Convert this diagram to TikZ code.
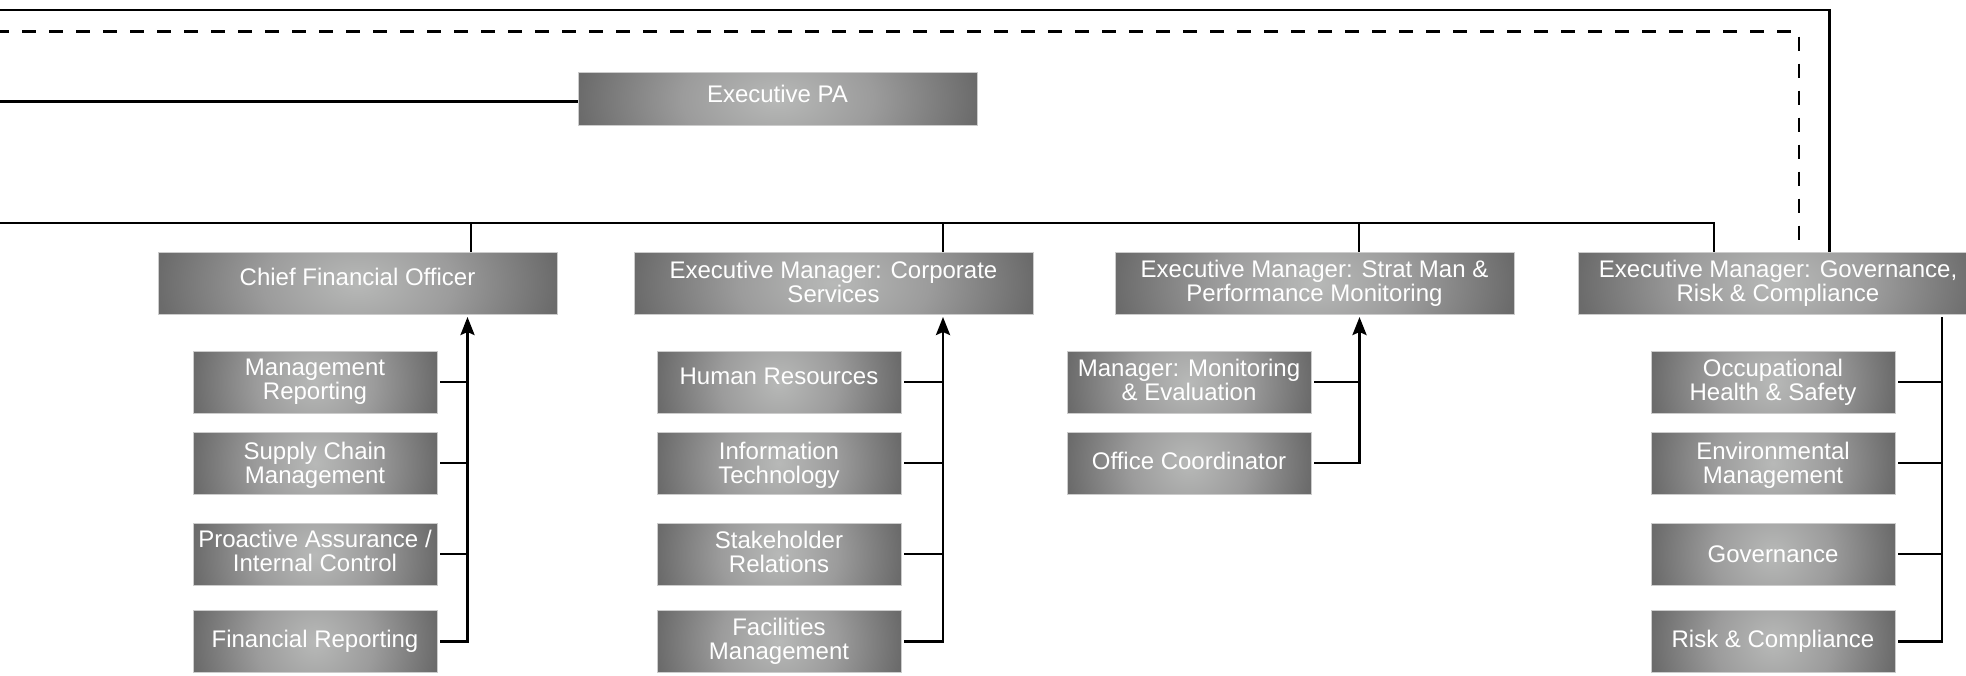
\documentclass[tikz,border=0pt]{standalone}
\usepackage{fontspec}
\setmainfont{Liberation Sans}
\usetikzlibrary{arrows.meta}

% grey box fill: light in the middle, darker towards the sides
\pgfdeclareradialshading{boxshade}{\pgfpoint{0bp}{0bp}}{%
  rgb(0bp)=(0.72,0.725,0.72);
  rgb(12bp)=(0.61,0.61,0.61);
  rgb(25bp)=(0.42,0.42,0.42);
  rgb(50bp)=(0.42,0.42,0.42)}

\tikzset{
  orgbox/.style={rectangle, inner sep=0pt, draw=black!20, line width=0.8pt,
    path picture={\shade[shading=boxshade]
      ([yshift=-90pt]path picture bounding box.south west) rectangle
      ([yshift=90pt]path picture bounding box.north east);}},
  topbox/.style={orgbox, minimum width=399pt, minimum height=62pt},
  subbox/.style={orgbox, minimum width=244pt, minimum height=62pt},
  txt/.style={text=white, align=center, inner sep=0pt,
    font=\fontsize{24pt}{24pt}\selectfont},
  wire/.style={line width=2.8pt, draw=black},
  dashwire/.style={wire, dash pattern=on 14pt off 13pt},
  feed/.style={wire, -{Stealth[length=18pt, width=14pt, inset=3pt]}},
}

\begin{document}
\begin{tikzpicture}[x=1pt, y=-1pt]
\useasboundingbox (0,0) rectangle (1966,675);
\clip (0,0) rectangle (1966,675);

% ---- executive level ----
\node[topbox, minimum height=52.5pt] (pa) at (777.5,98.75) {};
\node[txt, yshift=4.5pt] at (pa) {Executive PA};

\node[topbox] (cfo) at (357.5,283) {};
\node[txt, yshift=6pt] at (cfo) {Chief Financial Officer};

\node[topbox] (cs) at (833.5,283) {};
\node[txt, yshift=1pt] at (cs) {Executive Manager: Corporate\\Services};

\node[topbox] (sm) at (1314.5,283) {};
\node[txt] at (sm) {Executive Manager: Strat Man \&\\Performance Monitoring};

\node[topbox, minimum width=400pt] (grc) at (1778,283) {};
\node[txt] at (grc) {Executive Manager: Governance,\\Risk \& Compliance};

% ---- finance ----
\node[subbox] (mr)  at (315,382)   {};
\node[txt] at (mr) {Management\\Reporting};
\node[subbox] (scm) at (315,463)   {};
\node[txt, yshift=-2pt] at (scm) {Supply Chain\\Management};
\node[subbox] (pac) at (315,554)   {};
\node[txt, yshift=3pt] at (pac) {Proactive Assurance /\\Internal Control};
\node[subbox] (fr)  at (315,641.5) {};
\node[txt] at (fr) {Financial Reporting};

% ---- corporate services ----
\node[subbox] (hr) at (779,382)   {};
\node[txt, yshift=5.5pt] at (hr) {Human Resources};
\node[subbox] (it) at (779,463)   {};
\node[txt, yshift=-2pt] at (it) {Information\\Technology};
\node[subbox] (sr) at (779,554)   {};
\node[txt, yshift=2pt] at (sr) {Stakeholder\\Relations};
\node[subbox] (fm) at (779,641.5) {};
\node[txt] at (fm) {Facilities\\Management};

% ---- strategic management ----
\node[subbox] (mme) at (1189,382) {};
\node[txt, yshift=2pt] at (mme) {Manager: Monitoring\\\& Evaluation};
\node[subbox] (oc)  at (1189,463) {};
\node[txt, yshift=2pt] at (oc) {Office Coordinator};

% ---- governance, risk & compliance ----
\node[subbox] (ohs) at (1773,382)   {};
\node[txt] at (ohs) {Occupational\\Health \& Safety};
\node[subbox] (em)  at (1773,463)   {};
\node[txt, yshift=-2pt] at (em) {Environmental\\Management};
\node[subbox] (gov) at (1773,554)   {};
\node[txt] at (gov) {Governance};
\node[subbox] (rc)  at (1773,641.5) {};
\node[txt] at (rc) {Risk \& Compliance};

% ---- reporting lines from the left ----
\coordinate (in1) at (-5,10);
\coordinate (in2) at (-5,31.5);
\coordinate (in3) at (-5,101.5);
\coordinate (in4) at (-5,223);
\coordinate (tr) at (1829.5,10);
\coordinate (dr) at (1799,31.5);
\coordinate (jcfo) at (471,223);
\coordinate (jcs)  at (943,223);
\coordinate (jsm)  at (1359,223);
\coordinate (jgrc) at (1714,223);

\draw[wire] (in1) -- (tr) -- (tr |- grc.north);
\draw[dashwire] (in2) -- (dr) -- (dr |- grc.north);
\draw[wire] (in3) -- (in3 -| pa.west);
\draw[wire] (in4) -- (jgrc) -- (jgrc |- grc.north);
\draw[wire] (jcfo) -- (jcfo |- cfo.north);
\draw[wire] (jcs) -- (jcs |- cs.north);
\draw[wire] (jsm) -- (jsm |- sm.north);

% ---- sections reporting to their managers ----
\coordinate (cfotip) at (467.5,317);
\draw[feed] ([xshift=3pt]fr.east) -| (cfotip);
\draw[wire] ([xshift=3pt]mr.east) -- (mr.east -| cfotip);
\draw[wire] ([xshift=3pt]scm.east) -- (scm.east -| cfotip);
\draw[wire] ([xshift=3pt]pac.east) -- (pac.east -| cfotip);

\coordinate (cstip) at (943,317);
\draw[feed] ([xshift=3pt]fm.east) -| (cstip);
\draw[wire] ([xshift=3pt]hr.east) -- (hr.east -| cstip);
\draw[wire] ([xshift=3pt]it.east) -- (it.east -| cstip);
\draw[wire] ([xshift=3pt]sr.east) -- (sr.east -| cstip);

\coordinate (smtip) at (1359.5,317);
\draw[feed] ([xshift=3pt]oc.east) -| (smtip);
\draw[wire] ([xshift=3pt]mme.east) -- (mme.east -| smtip);

\coordinate (grctop) at (1942,317);
\draw[wire] ([xshift=3pt]rc.east) -| (grctop);
\draw[wire] ([xshift=3pt]ohs.east) -- (ohs.east -| grctop);
\draw[wire] ([xshift=3pt]em.east) -- (em.east -| grctop);
\draw[wire] ([xshift=3pt]gov.east) -- (gov.east -| grctop);
\end{tikzpicture}
\end{document}
